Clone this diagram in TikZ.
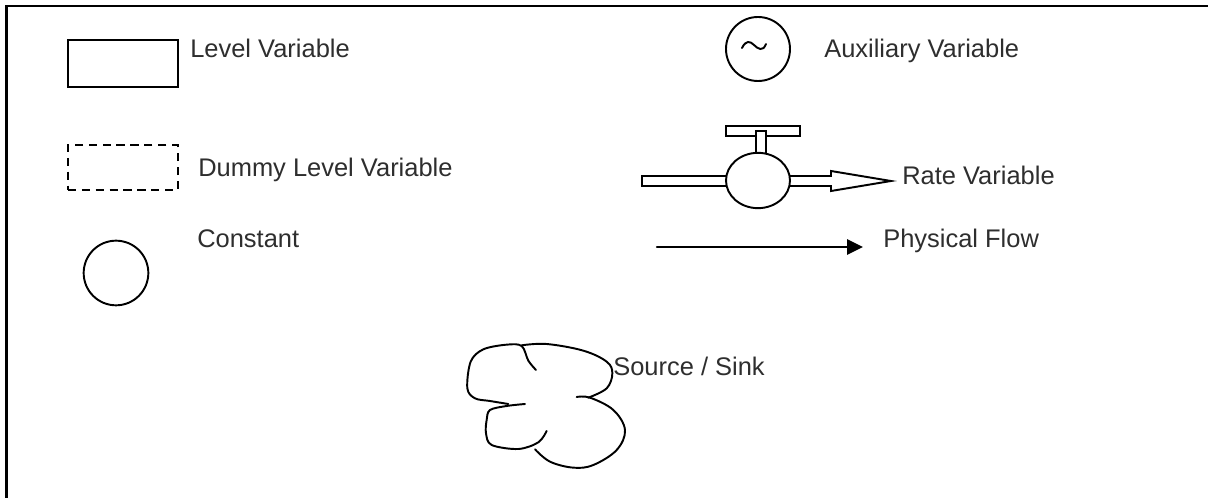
\documentclass[tikz,border=0pt]{standalone}
\usepackage{fontspec}
\setmainfont{Liberation Sans}
\usetikzlibrary{arrows.meta,shapes.geometric}
\definecolor{labelgrey}{HTML}{2E2E2E}
\tikzset{
  line/.style={draw=black,line width=1.45pt},
  levelbox/.style={line,rectangle,inner sep=0pt,minimum width=82.5pt,minimum height=35pt},
  dummybox/.style={levelbox,minimum height=33.5pt,dash pattern=on 6.2pt off 4.2pt},
  roundvar/.style={line,circle,inner sep=0pt,minimum size=48pt},
  valvebody/.style={line,ellipse,inner sep=0pt,minimum width=48pt,minimum height=41.5pt,fill=white},
  label/.style={anchor=base west,inner sep=0pt,text=labelgrey,font=\fontsize{19.1pt}{22pt}\selectfont},
  cloudline/.style={draw=black,line width=1.45pt,line cap=round,line join=round},
  flowtip/.style={-{Triangle[length=12pt,width=11.5pt]}}
}
\begin{document}
\begin{tikzpicture}[x=0.75pt,y=-0.75pt]
\useasboundingbox (0,0) rectangle (1208,498);
% frame
\draw[draw=black,line width=1.9pt] (6.5,498) -- (6.5,6) -- (1208,6);
% level variable
\node[levelbox] (level) at (123,63.5) {};
\node[label] (levelT) at (190,58) {Level Variable};
% dummy
\node[dummybox] (dummy) at (123,167.5) {};
\node[label] (dummyT) at (198,177) {Dummy Level Variable};
% constant
\node[roundvar,minimum size=48.5pt] (const) at (116,273) {};
\node[label] (constT) at (197,248) {Constant};
% auxiliary
\node[roundvar] (aux) at (758,49) {};
\draw[line,line cap=round] (742,48) .. controls (746,40) and (750,41) .. (754,45) .. controls (758,49) and (763,52) .. (766,44);
\node[label] (auxT) at (824,58) {Auxiliary Variable};
% rate variable
\draw[line,fill=white] (726,126) rectangle (800,136);
\draw[line,fill=white] (756,131) rectangle (766,155);
\draw[line,fill=white] (642,176) rectangle (728,186);
\draw[line,fill=white,line join=miter] (788,176) -- (831,176) -- (831,171) -- (891,181) -- (831,191) -- (831,186) -- (788,186);
\node[valvebody] (valve) at (758,180.5) {};
\node[label] (rateT) at (902,184.5) {Rate Variable};
% physical flow
\coordinate (flowA) at (657,247);
\coordinate (flowB) at (863,247);
\draw[line,line width=1.7pt,flowtip,line cap=round] (flowA) -- (flowB);
\node[label] (flowT) at (883,248) {Physical Flow};
% source / sink
\begin{scope}[shift={(450,330)},x=0.25pt,y=-0.25pt]
\draw[cloudline] plot[smooth,tension=0.55] coordinates {(258,120) (235,92) (215,48) (170,44) (100,58) (62,95) (52,175) (75,205) (120,213) (175,222)};
\draw[cloudline] plot[smooth,tension=0.55] coordinates {(225,222) (170,228) (120,240) (110,270) (108,310) (125,345) (205,357) (265,337) (290,303)};
\draw[cloudline] plot[smooth,tension=0.6] coordinates {(215,46) (290,42) (400,62) (470,95) (487,130) (470,175) (415,203)};
\draw[cloudline] plot[smooth,tension=0.6] coordinates {(380,201) (420,203) (490,240) (525,300) (500,360) (430,405) (370,413) (300,395) (255,358)};
\end{scope}
\node[label] (sinkT) at (613,376) {Source / Sink};
\end{tikzpicture}
\end{document}
